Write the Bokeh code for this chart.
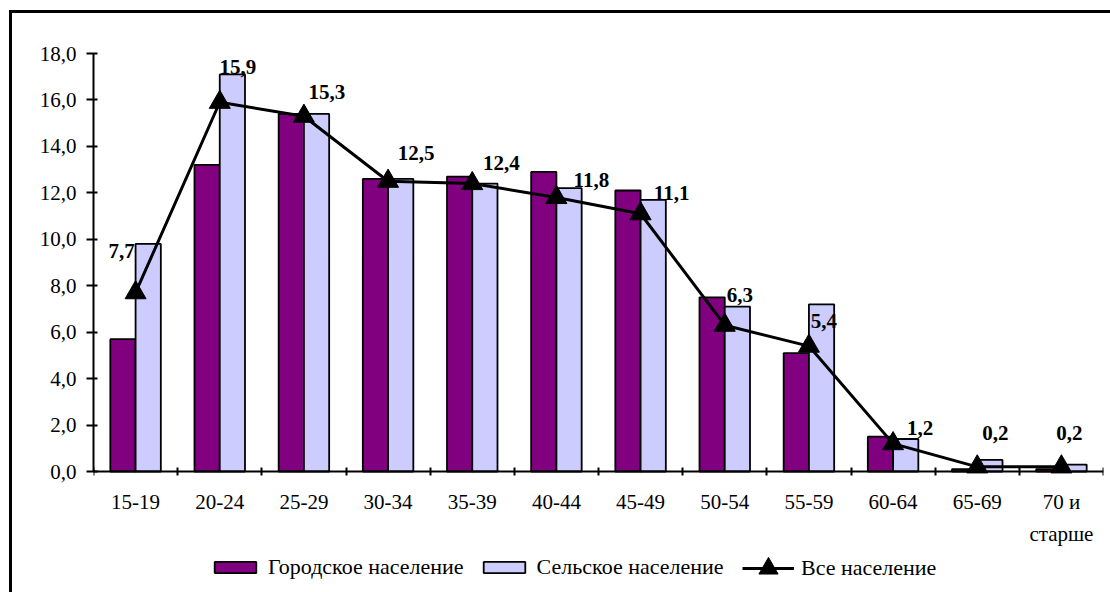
from bokeh.plotting import figure
from bokeh.models import (Range1d, FixedTicker, ColumnDataSource, Legend, LegendItem)
from bokeh.transform import dodge
from bokeh.core.properties import value
from bokeh.embed import file_html
from bokeh.resources import INLINE

# ---------------- data ----------------
categories = ["15-19", "20-24", "25-29", "30-34", "35-39", "40-44",
              "45-49", "50-54", "55-59", "60-64", "65-69", "70 и старше"]
category_labels = ["15-19", "20-24", "25-29", "30-34", "35-39", "40-44",
                   "45-49", "50-54", "55-59", "60-64", "65-69", "70 и\nстарше"]
urban = [5.7, 13.2, 15.4, 12.6, 12.7, 12.9, 12.1, 7.5, 5.1, 1.5, 0.1, 0.1]
rural = [9.8, 17.1, 15.4, 12.6, 12.4, 12.2, 11.7, 7.1, 7.2, 1.4, 0.5, 0.3]
total = [7.7, 15.9, 15.3, 12.5, 12.4, 11.8, 11.1, 6.3, 5.4, 1.2, 0.2, 0.2]
y_ticks = [0, 2, 4, 6, 8, 10, 12, 14, 16, 18]
series_names = ["Городское население", "Сельское население", "Все население"]

# label placement (screen px, layout only)
label_dx = [-14, 18, 23, 28, 29, 35, 31, 15, 15, 27, 18, 8]
label_dy = [-42, -35, -24, -28, -21, -17, -21, -30, -25, -16, -34, -34]

FONT = "Liberation Serif"
PURPLE = "#800080"
LAVENDER = "#CCCCFF"

# layout: plot area from y=53 (value 18) to y=471 (value 0); the frame continues to the
# bottom of the page so that axis labels and legend sit inside it
H, TOP, ZERO_Y, LEFT = 592, 53, 471, 93
Y_MAX = 18
units_per_px = Y_MAX / (ZERO_Y - TOP)
y_start = -(H - ZERO_Y) * units_per_px

def fmt(v):
    return f"{v:.1f}".replace(".", ",")

n = len(categories)
slot = [i + 0.5 for i in range(n)]          # centre of each category slot on the axis

src = ColumnDataSource(dict(
    cat=categories, slot=slot, urban=urban, rural=rural, total=total,
    lbl=[fmt(v) for v in total], dx=label_dx, dy=label_dy,
))

p = figure(width=1110, height=H,
           x_range=Range1d(0, n), y_range=Range1d(y_start, Y_MAX),
           output_backend="svg", toolbar_location=None,
           min_border_left=LEFT, min_border_right=7,
           min_border_top=TOP, min_border_bottom=0)
p.border_fill_color = None
p.background_fill_color = None
p.outline_line_color = None
p.xgrid.visible = False
p.ygrid.visible = False
p.styles = {"box-shadow": "inset 9px 10px 0 0 #fff, inset 12px 13px 0 0 #000"}

# bars
r_urban = p.vbar(x=dodge("slot", -0.15), top="urban", bottom=0, width=0.3,
                 source=src, fill_color=PURPLE, line_color="black", line_width=1.8)
r_rural = p.vbar(x=dodge("slot", 0.15), top="rural", bottom=0, width=0.3,
                 source=src, fill_color=LAVENDER, line_color="black", line_width=1.8)

# line
r_line = p.line(x="slot", y="total", source=src, line_color="black", line_width=3)
r_pts = p.scatter(x="slot", y="total", source=src, marker="triangle", size=21,
                  fill_color="black", line_color="black")

p.text(x="slot", y="total", text="lbl", x_offset="dx", y_offset="dy", source=src,
       text_font=value(FONT), text_font_style="bold", text_font_size="21px",
       text_align="center", text_baseline="middle", text_color="black")

# y axis
ya = p.yaxis[0]
ya.ticker = FixedTicker(ticks=y_ticks)
ya.bounds = (0, Y_MAX)
ya.major_label_overrides = {t: fmt(t) for t in y_ticks}
ya.minor_tick_line_color = None
ya.major_tick_out = 7
ya.major_tick_in = 4
ya.major_tick_line_width = 2
ya.axis_line_width = 2
ya.major_label_standoff = 10
ya.major_label_text_font = FONT
ya.major_label_text_font_size = "21px"
ya.major_label_text_color = "black"

# x axis at value 0: boundary ticks as minor ticks, labels at slot centres
xa = p.xaxis[0]
xa.fixed_location = 0
xa.ticker = FixedTicker(ticks=slot, minor_ticks=list(range(n + 1)))
xa.major_label_overrides = {c: l for c, l in zip(slot, category_labels)}
xa.major_tick_in = 0
xa.major_tick_out = 0
xa.minor_tick_in = 4
xa.minor_tick_out = 4
xa.minor_tick_line_width = 2
xa.minor_tick_line_color = "black"
xa.axis_line_width = 2
xa.major_label_standoff = 14
xa.major_label_text_font = FONT
xa.major_label_text_font_size = "21px"
xa.major_label_text_line_height = 1.35
xa.major_label_text_color = "black"

def style_legend(lg):
    lg.orientation = "horizontal"
    lg.border_line_color = None
    lg.background_fill_alpha = 0
    lg.glyph_width = 52
    lg.label_standoff = 7
    lg.spacing = 14
    lg.padding = 0
    lg.margin = 0
    lg.label_text_font = FONT
    lg.label_text_font_size = "22px"
    lg.label_text_color = "black"

# bar series legend
legend_bars = Legend(items=[
    LegendItem(label=series_names[0], renderers=[r_urban]),
    LegendItem(label=series_names[1], renderers=[r_rural]),
], location=(209 - LEFT, 12))
style_legend(legend_bars)
legend_bars.glyph_height = 14
p.add_layout(legend_bars, "center")

# line series legend (taller glyph box so the triangle is drawn at full size)
legend_line = Legend(items=[
    LegendItem(label=series_names[2], renderers=[r_line, r_pts]),
], location=(742 - LEFT, 0))
style_legend(legend_line)
legend_line.glyph_height = 48
p.add_layout(legend_line, "center")

open("out.html", "w").write(file_html(p, INLINE))
